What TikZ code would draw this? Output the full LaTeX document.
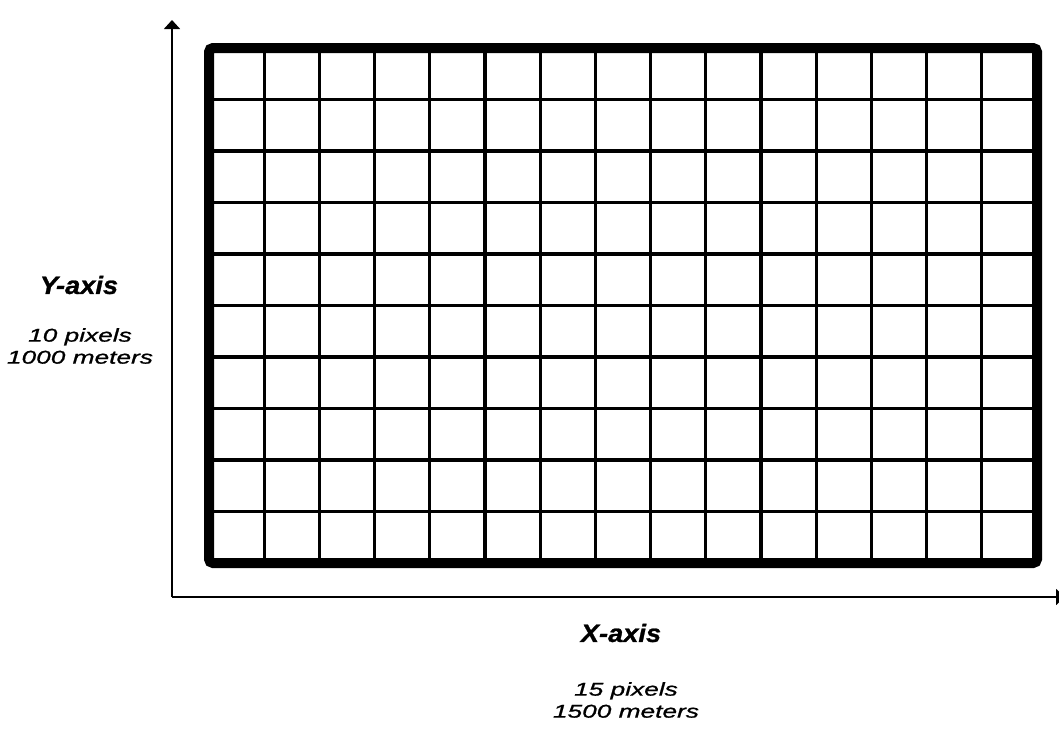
\documentclass[tikz,border=0pt]{standalone}
\usepackage{fontspec}
\setmainfont{Liberation Sans}
\newfontfamily\headfont[FakeStretch=1.09,FakeBold=1]{Liberation Sans}
\newfontfamily\notefont[FakeStretch=1.42,FakeBold=1]{Liberation Sans}
\usetikzlibrary{arrows.meta}

\tikzset{
  axislabel/.style={font=\headfont\fontsize{25}{28}\selectfont\bfseries\itshape},
  axisnote/.style={font=\notefont\fontsize{18.5}{22}\selectfont\itshape,align=center},
  cellline/.style={line width=3.2pt},
  frameline/.style={line width=10pt,rounded corners=4pt},
  axisline/.style={line width=1.6pt,-{Triangle[width=16pt,length=9pt]}}
}

\begin{document}
\begin{tikzpicture}[x=1pt,y=-1pt]
  \useasboundingbox (0,0) rectangle (1059,729);
  % grid of 15 x 10 cells
  \foreach \i in {1,...,14}
    \draw[cellline] ({209+\i*55.2},48) -- ({209+\i*55.2},563);
  \foreach \j in {1,...,9}
    \draw[cellline] (209,{48+\j*51.5}) -- (1037,{48+\j*51.5});
  \draw[frameline] (209,48) rectangle (1037,563);
  % axes
  \coordinate (origin) at (172,597);
  \coordinate (ytip) at (172,20);
  \coordinate (xtip) at (1065,597);
  \draw[axisline] (origin) -- (ytip);
  \draw[axisline] (origin) -- (xtip);
  % labels
  \node[axislabel] (ylabel) at (79,285) {Y-axis};
  \node[axisnote] (ynote) at (80,346) {10 pixels\\1000 meters};
  \node[axislabel] (xlabel) at (621,633) {X-axis};
  \node[axisnote] (xnote) at (626,700) {15 pixels\\1500 meters};
\end{tikzpicture}
\end{document}
